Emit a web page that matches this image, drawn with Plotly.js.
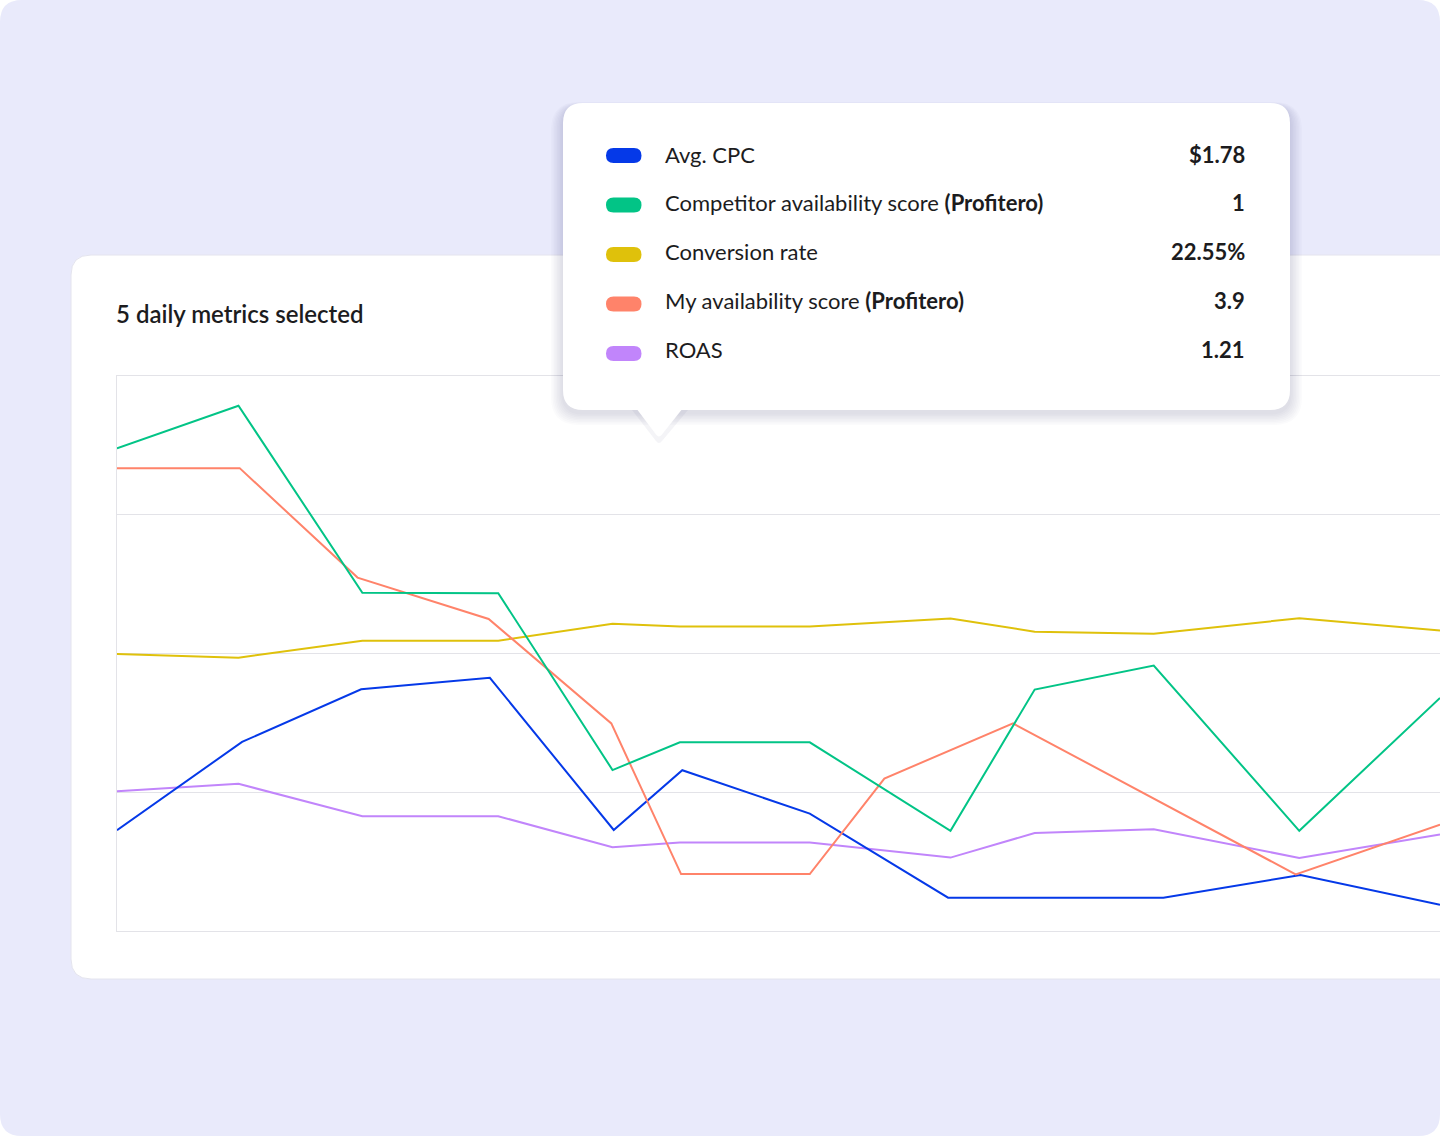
<!DOCTYPE html>
<html>
<head>
<meta charset="utf-8">
<script src="https://cdn.plot.ly/plotly-3.0.1.min.js"></script>
<style>
  html, body { margin: 0; padding: 0; background: #ffffff; }
  #chart { width: 1440px; height: 1136px; }
</style>
</head>
<body>
<div id="chart"></div>
<script>
// ---------- DATA ----------
const seriesNames = ["Avg. CPC", "Competitor availability score", "Conversion rate", "My availability score", "ROAS"];
const seriesSuffix = ["", " <b>(Profitero)</b>", "", " <b>(Profitero)</b>", ""];
const tooltipValues = ["$1.78", "1", "22.55%", "3.9", "1.21"];
const seriesColors = ["#0539E8", "#02C486", "#DFC10B", "#FF836A", "#C185FB"];

const cpcX = [0, 1.04, 2.03, 3.10, 4.13, 4.70, 5.76, 6.91, 8.70, 9.84, 11];
const cpcY = [0.726, 1.363, 1.742, 1.825, 0.728, 1.159, 0.846, 0.240, 0.240, 0.403, 0.189];

const commonX = [0, 1.01, 2.04, 3.17, 4.12, 4.68, 5.76, 6.93, 7.63, 8.62, 9.83, 11];
const competitorY = [3.478, 3.786, 2.437, 2.435, 1.160, 1.360, 1.360, 0.722, 1.740, 1.913, 0.722, 1.680];
const conversionY = [1.996, 1.970, 2.092, 2.092, 2.215, 2.194, 2.194, 2.253, 2.157, 2.143, 2.254, 2.165];
const roasY = [1.007, 1.061, 0.827, 0.827, 0.603, 0.637, 0.637, 0.529, 0.706, 0.733, 0.527, 0.695];

const myAvailX = [0, 1.02, 2.00, 3.09, 4.11, 4.69, 5.76, 6.38, 7.45, 9.80, 11];
const myAvailY = [3.336, 3.336, 2.547, 2.249, 1.496, 0.410, 0.410, 1.099, 1.496, 0.408, 0.767];

const chartTitle = "5 daily metrics selected";

// ---------- LAYOUT HELPERS ----------
const L = 117, T = 376, W = 1323, H = 555;
const FONT = "Lato, 'Noto Sans', sans-serif";
function px(x) { return (x - L) / W; }
function py(y) { return (T + H - y) / H; }
function roundRect(x0, y0, x1, y1, r) {
  return `M ${px(x0 + r)},${py(y0)} L ${px(x1 - r)},${py(y0)} ` +
    `Q ${px(x1)},${py(y0)} ${px(x1)},${py(y0 + r)} L ${px(x1)},${py(y1 - r)} ` +
    `Q ${px(x1)},${py(y1)} ${px(x1 - r)},${py(y1)} L ${px(x0 + r)},${py(y1)} ` +
    `Q ${px(x0)},${py(y1)} ${px(x0)},${py(y1 - r)} L ${px(x0)},${py(y0 + r)} ` +
    `Q ${px(x0)},${py(y0)} ${px(x0 + r)},${py(y0)} Z`;
}
function pathShape(path, fill, layer, line) {
  return {
    type: "path", xref: "paper", yref: "paper", path: path,
    fillcolor: fill, layer: layer,
    line: line || { width: 0, color: "rgba(0,0,0,0)" }
  };
}

// ---------- TRACES ----------
const seriesX = [cpcX, commonX, commonX, myAvailX, commonX];
const seriesY = [cpcY, competitorY, conversionY, myAvailY, roasY];
const drawOrder = [2, 4, 0, 3, 1];
const traces = drawOrder.map(i => ({
  type: "scatter", mode: "lines",
  x: seriesX[i], y: seriesY[i], name: seriesNames[i],
  line: { color: seriesColors[i], width: 2 },
  hoverinfo: "skip"
}));

// ---------- SHAPES ----------
const shapes = [];
// page background
shapes.push(pathShape(roundRect(0, 0, 1440, 1136, 22), "#E9EAFB", "below"));
// card
shapes.push(pathShape(roundRect(71, 255, 1480, 979, 20), "#FFFFFF", "below",
  { width: 1, color: "#E4E4EE" }));

// tooltip shadow
const tipX0 = 563, tipY0 = 103, tipX1 = 1290, tipY1 = 410;
for (let i = 1; i <= 8; i++) {
  shapes.push(pathShape(roundRect(tipX0 - i * 1.5, tipY0 - i * 0.5 + 3, tipX1 + i * 1.5, tipY1 + i * 1.5 + 3, 20 + i),
    "rgba(40,40,90,0.018)", "above"));
}
// pointer shadow
shapes.push(pathShape(`M ${px(632)},${py(410)} L ${px(688)},${py(410)} L ${px(662)},${py(441)} Q ${px(659)},${py(445)} ${px(656)},${py(441)} Z`,
  "rgba(40,40,90,0.05)", "above"));
// tooltip body
shapes.push(pathShape(roundRect(tipX0, tipY0, tipX1, tipY1, 20), "#FFFFFF", "above"));
// pointer
shapes.push(pathShape(`M ${px(636)},${py(408)} L ${px(683)},${py(408)} L ${px(662)},${py(434.5)} Q ${px(659)},${py(438.5)} ${px(656)},${py(434.5)} Z`,
  "#FFFFFF", "above"));

// swatches + annotations
const annotations = [];
const rowStart = 155.6, rowStep = 49.5;
const textStart = 154.2, textStep = 48.7;
seriesNames.forEach((name, i) => {
  const cy = rowStart + i * rowStep;
  const ty = textStart + i * textStep;
  shapes.push(pathShape(roundRect(606, cy - 7.5, 641.5, cy + 7.5, 7.5), seriesColors[i], "above"));
  annotations.push({
    xref: "paper", yref: "paper", x: px(663), y: py(ty),
    xanchor: "left", yanchor: "middle", showarrow: false,
    text: name + seriesSuffix[i],
    font: { family: FONT, size: 22, color: "#1C1C1E" }
  });
  annotations.push({
    xref: "paper", yref: "paper", x: px(1247), y: py(ty),
    xanchor: "right", yanchor: "middle", showarrow: false,
    text: "<b>" + tooltipValues[i] + "</b>",
    font: { family: FONT, size: 22, color: "#1C1C1E" }
  });
});
annotations.push({
  xref: "paper", yref: "paper", x: px(114), y: py(313),
  xanchor: "left", yanchor: "middle", showarrow: false,
  text: chartTitle,
  font: { family: FONT, size: 24, color: "#1C1C1E", weight: 600 }
});

const layout = {
  width: 1440, height: 1136,
  margin: { l: L, r: 0, t: T, b: 1136 - T - H, pad: 0 },
  paper_bgcolor: "#FFFFFF",
  plot_bgcolor: "rgba(0,0,0,0)",
  showlegend: false,
  xaxis: {
    range: [0, 11], showgrid: false, zeroline: false, showticklabels: false, ticks: "",
    showline: true, mirror: true, linecolor: "#E3E3E8", linewidth: 1, fixedrange: true
  },
  yaxis: {
    range: [0, 4], dtick: 1, tick0: 0, showgrid: true, gridcolor: "#E3E3E8", gridwidth: 1,
    zeroline: false, showticklabels: false, ticks: "",
    showline: true, linecolor: "#E3E3E8", linewidth: 1, fixedrange: true
  },
  shapes: shapes,
  annotations: annotations,
  font: { family: FONT }
};

Plotly.newPlot("chart", traces, layout, { displayModeBar: false, staticPlot: true });
</script>
</body>
</html>
